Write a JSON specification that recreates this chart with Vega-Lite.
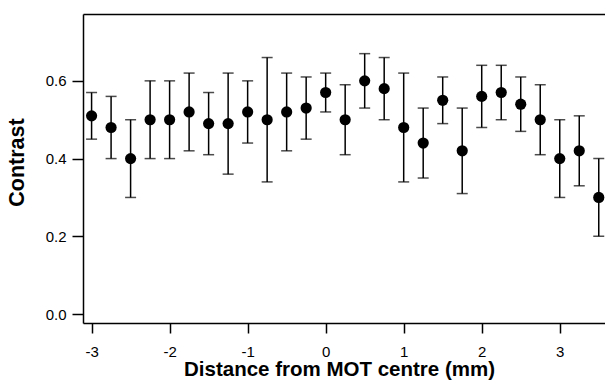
{
  "$schema": "https://vega.github.io/schema/vega-lite/v6.json",
  "autosize": {"type": "none"},
  "width": 522,
  "height": 309,
  "padding": {"left": 83, "top": 14, "right": 0, "bottom": 57},
  "background": "white",
  "config": {
    "view": {"stroke": null},
    "font": "Liberation Sans",
    "axis": {
      "domainColor": "black",
      "domainWidth": 1.5,
      "tickColor": "black",
      "tickWidth": 1.5,
      "labelColor": "black",
      "labelFont": "Liberation Sans",
      "labelFontSize": 15,
      "titleColor": "black",
      "titleFont": "Liberation Sans",
      "titleFontWeight": "bold",
      "titleFontSize": 20,
      "grid": false
    }
  },
  "data": {
    "values": [
      {"x": -3.0, "c": 0.51, "lo": 0.45, "hi": 0.57},
      {"x": -2.75, "c": 0.48, "lo": 0.40, "hi": 0.56},
      {"x": -2.5, "c": 0.40, "lo": 0.30, "hi": 0.50},
      {"x": -2.25, "c": 0.50, "lo": 0.40, "hi": 0.60},
      {"x": -2.0, "c": 0.50, "lo": 0.40, "hi": 0.60},
      {"x": -1.75, "c": 0.52, "lo": 0.42, "hi": 0.62},
      {"x": -1.5, "c": 0.49, "lo": 0.41, "hi": 0.57},
      {"x": -1.25, "c": 0.49, "lo": 0.36, "hi": 0.62},
      {"x": -1.0, "c": 0.52, "lo": 0.44, "hi": 0.60},
      {"x": -0.75, "c": 0.50, "lo": 0.34, "hi": 0.66},
      {"x": -0.5, "c": 0.52, "lo": 0.42, "hi": 0.62},
      {"x": -0.25, "c": 0.53, "lo": 0.45, "hi": 0.61},
      {"x": 0.0, "c": 0.57, "lo": 0.52, "hi": 0.62},
      {"x": 0.25, "c": 0.50, "lo": 0.41, "hi": 0.59},
      {"x": 0.5, "c": 0.60, "lo": 0.53, "hi": 0.67},
      {"x": 0.75, "c": 0.58, "lo": 0.50, "hi": 0.66},
      {"x": 1.0, "c": 0.48, "lo": 0.34, "hi": 0.62},
      {"x": 1.25, "c": 0.44, "lo": 0.35, "hi": 0.53},
      {"x": 1.5, "c": 0.55, "lo": 0.49, "hi": 0.61},
      {"x": 1.75, "c": 0.42, "lo": 0.31, "hi": 0.53},
      {"x": 2.0, "c": 0.56, "lo": 0.48, "hi": 0.64},
      {"x": 2.25, "c": 0.57, "lo": 0.50, "hi": 0.64},
      {"x": 2.5, "c": 0.54, "lo": 0.47, "hi": 0.61},
      {"x": 2.75, "c": 0.50, "lo": 0.41, "hi": 0.59},
      {"x": 3.0, "c": 0.40, "lo": 0.30, "hi": 0.50},
      {"x": 3.25, "c": 0.42, "lo": 0.33, "hi": 0.51},
      {"x": 3.5, "c": 0.30, "lo": 0.20, "hi": 0.40}
    ]
  },
  "resolve": {"axis": {"x": "independent"}},
  "layer": [
    {
      "mark": {"type": "rule", "color": "black", "strokeWidth": 1.5},
      "encoding": {
        "x": {
          "field": "x", "type": "quantitative",
          "scale": {"domain": [-3.11, 3.58], "nice": false, "zero": false},
          "axis": {
            "orient": "bottom",
            "values": [-3, -2, -1, 0, 1, 2, 3],
            "labelExpr": "'' + datum.value",
            "tickSize": 10,
            "labelPadding": 11,
            "title": "Distance from MOT centre (mm)",
            "titleFontSize": 20.5,
            "titleBaseline": "alphabetic",
            "titleX": 256,
            "titleY": 52
          }
        },
        "y": {
          "field": "lo", "type": "quantitative",
          "scale": {"domain": [-0.023, 0.772], "nice": false, "zero": false},
          "axis": {
            "values": [0, 0.2, 0.4, 0.6],
            "format": ".1f",
            "tickSize": 11,
            "labelPadding": 6,
            "title": "Contrast",
            "titleFontSize": 21.5,
            "titleBaseline": "alphabetic",
            "titleX": -60,
            "titleY": 148
          }
        },
        "y2": {"field": "hi"}
      }
    },
    {
      "mark": {"type": "tick", "orient": "horizontal", "color": "black", "thickness": 1.5, "size": 11},
      "encoding": {
        "x": {"field": "x", "type": "quantitative", "axis": {"orient": "top", "labels": false, "ticks": false, "title": null}},
        "y": {"field": "lo", "type": "quantitative"}
      }
    },
    {
      "mark": {"type": "tick", "orient": "horizontal", "color": "black", "thickness": 1.5, "size": 11},
      "encoding": {
        "x": {"field": "x", "type": "quantitative", "axis": null},
        "y": {"field": "hi", "type": "quantitative"}
      }
    },
    {
      "mark": {"type": "point", "shape": "circle", "filled": true, "color": "black", "opacity": 1, "size": 125},
      "encoding": {
        "x": {"field": "x", "type": "quantitative", "axis": null},
        "y": {"field": "c", "type": "quantitative"}
      }
    }
  ]
}
